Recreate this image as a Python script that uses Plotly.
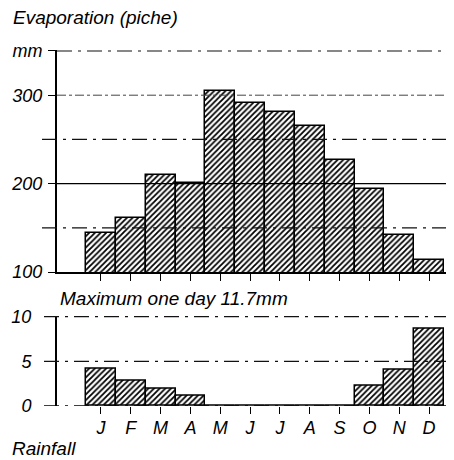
import plotly.graph_objects as go

months = ["Jan", "Feb", "Mar", "Apr", "May", "Jun", "Jul", "Aug", "Sep", "Oct", "Nov", "Dec"]
month_labels = ["J", "F", "M", "A", "M", "J", "J", "A", "S", "O", "N", "D"]
evaporation = [144, 161, 210, 200, 305, 291, 281, 265, 227, 194, 142, 113]
rainfall = [4.2, 2.8, 1.9, 1.1, 0, 0, 0, 0, 0, 2.3, 4.1, 8.7]
evap_ticks = [100, 200, 300, 350]
evap_ticktext = ["100", "200", "300", "mm"]
rain_ticks = [0, 5, 10]

W, H = 454, 460
FONT = dict(family="Liberation Sans, Arial, sans-serif", size=18, color="black", style="italic")
TFONT = dict(FONT, size=19)

def px(x):
    return x / W

def py(y):
    return (H - y) / H

hatch = dict(shape="/", fgcolor="black", bgcolor="white", size=4, solidity=0.45, fgopacity=1)

fig = go.Figure()
fig.add_trace(go.Bar(x=months, y=evaporation, width=1, xaxis="x", yaxis="y",
                     marker=dict(color="white", pattern=hatch, line=dict(color="black", width=1.5)),
                     showlegend=False, hoverinfo="skip"))
fig.add_trace(go.Bar(x=months, y=rainfall, width=1, xaxis="x2", yaxis="y2",
                     marker=dict(color="white", pattern=hatch, line=dict(color="black", width=1.5)),
                     showlegend=False, hoverinfo="skip"))

xr = [-1.472, 11.567]
fig.update_layout(
    width=W, height=H,
    margin=dict(l=0, r=0, t=0, b=0, autoexpand=False),
    paper_bgcolor="white", plot_bgcolor="white",
    bargap=0,
    font=FONT,
    xaxis=dict(domain=[px(57), px(446)], anchor="y", type="category", range=xr,
               tickvals=months, showticklabels=False, ticks="outside", ticklen=7,
               tickwidth=1.3, tickcolor="black", showline=True, linecolor="black",
               linewidth=1.5, showgrid=False, zeroline=False, automargin=False),
    yaxis=dict(domain=[py(272), py(50.1)], anchor="x", range=[100, 351],
               tickvals=evap_ticks, ticktext=evap_ticktext, ticks="outside", ticklen=7,
               tickcolor="black", tickwidth=1.2, ticklabelstandoff=2,
               showline=True, linecolor="black", linewidth=2, showgrid=False, zeroline=False,
               tickfont=FONT, automargin=False),
    xaxis2=dict(domain=[px(57), px(446)], anchor="y2", type="category", range=xr,
                tickvals=months, ticktext=month_labels, ticks="outside", ticklen=7,
                tickwidth=1.3, tickcolor="black", showline=False, showgrid=False,
                zeroline=False, tickfont=FONT, automargin=False, ticklabelstandoff=-2),
    yaxis2=dict(domain=[py(406), py(315.8)], anchor="x2", range=[0, 10.1],
                tickvals=rain_ticks, ticks="", ticklabelstandoff=20,
                showline=True, linecolor="black", linewidth=2, showgrid=False, zeroline=False,
                tickfont=FONT, automargin=False),
)

shapes = []
# top gridlines
for v, x0, dash, col, w in [(350, 57, "longdashdot", "#111", 1.2),
                             (300, 57, "dashdot", "#444", 1.0),
                             (250, 42, "longdashdot", "#111", 1.2),
                             (200, 57, "solid", "black", 1.2),
                             (150, 42, "longdashdot", "#111", 1.2)]:
    shapes.append(dict(type="line", xref="paper", yref="y", x0=px(x0), x1=px(446),
                       y0=v, y1=v, line=dict(color=col, width=w, dash=dash), layer="above"))
# bottom gridlines
for v, dash, col, w in [(10, "longdashdot", "#111", 1.2),
                        (5, "longdashdot", "#111", 1.2),
                        (0, "longdashdot", "black", 1.3)]:
    shapes.append(dict(type="line", xref="paper", yref="y2", x0=px(44), x1=px(446),
                       y0=v, y1=v, line=dict(color=col, width=w, dash=dash), layer="above"))
fig.update_layout(shapes=shapes)

fig.update_layout(annotations=[
    dict(text="Evaporation (piche)", xref="paper", yref="paper", x=px(11), y=py(17),
         xanchor="left", yanchor="middle", showarrow=False, font=TFONT),
    dict(text="Maximum one day 11.7mm", xref="paper", yref="paper", x=px(58), y=py(298),
         xanchor="left", yanchor="middle", showarrow=False, font=TFONT),
    dict(text="Rainfall", xref="paper", yref="paper", x=px(10), y=py(448),
         xanchor="left", yanchor="middle", showarrow=False, font=TFONT),
])

fig.write_html("out.html", config={"displayModeBar": False},
               post_script="document.body.style.margin='0';document.body.style.overflow='hidden';")
